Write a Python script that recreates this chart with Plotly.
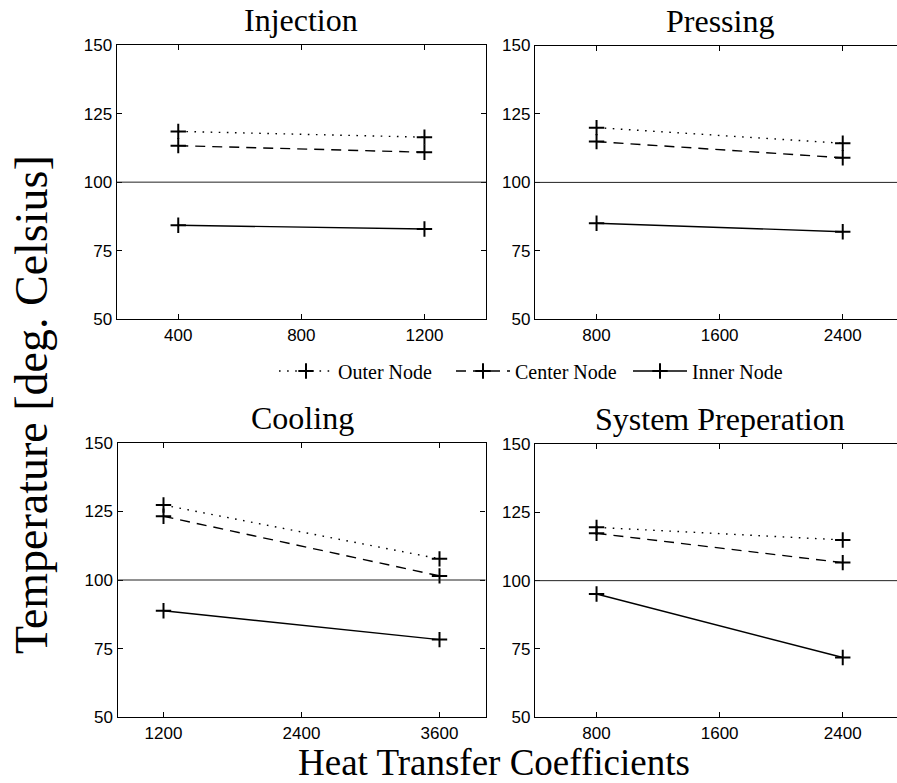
import plotly.graph_objects as go

# ---- data ----
panel_titles = ["Injection", "Pressing", "Cooling", "System Preperation"]
series_names = ["Outer Node", "Center Node", "Inner Node"]

injection_x = [400, 1200]
injection_outer = [118.5, 116.4]
injection_center = [113.3, 110.9]
injection_inner = [84.3, 82.9]

pressing_x = [800, 2400]
pressing_outer = [120.0, 114.3]
pressing_center = [114.9, 109.0]
pressing_inner = [85.1, 82.0]

cooling_x = [1200, 3600]
cooling_outer = [127.3, 107.7]
cooling_center = [123.2, 101.5]
cooling_inner = [88.8, 78.3]

sysprep_x = [800, 2400]
sysprep_outer = [119.5, 114.9]
sysprep_center = [117.3, 106.6]
sysprep_inner = [95.1, 71.9]

injection_ticks = [400, 800, 1200]
pressing_ticks = [800, 1600, 2400]
cooling_ticks = [1200, 2400, 3600]
sysprep_ticks = [800, 1600, 2400]
y_ticks = [50, 75, 100, 125, 150]
reference_level = 100

x_label = "Heat Transfer Coefficients"
y_label = "Temperature [deg. Celsius]"

# ---- figure ----
W, H = 897, 783
SERIF = "Liberation Serif, Times New Roman, serif"
SANS = "Liberation Sans, Arial, sans-serif"

panels = [
    (injection_x, [injection_outer, injection_center, injection_inner], injection_ticks, [200, 1400]),
    (pressing_x, [pressing_outer, pressing_center, pressing_inner], pressing_ticks, [400, 2752.6]),
    (cooling_x, [cooling_outer, cooling_center, cooling_inner], cooling_ticks, [800, 4000]),
    (sysprep_x, [sysprep_outer, sysprep_center, sysprep_inner], sysprep_ticks, [400, 2752.6]),
]
dashes = ["1.6px,6.5px", "10px,7px", "solid"]

# pixel boxes (left, right, top, bottom)
boxes = [
    (116.7, 486.0, 45.0, 319.3),
    (535.0, 897.0, 45.5, 319.3),
    (117.5, 485.5, 442.7, 717.3),
    (535.0, 897.0, 444.0, 717.3),
]

fig = go.Figure()
for i, (xs, ys_list, ticks, rng) in enumerate(panels):
    ax = "" if i == 0 else str(i + 1)
    for j, ys in enumerate(ys_list):
        fig.add_trace(go.Scatter(
            x=xs, y=ys, mode="lines+markers", name=series_names[j],
            legendgroup=series_names[j], showlegend=(i == 0),
            line=dict(color="black", width=1.4, dash=dashes[j]),
            marker=dict(symbol="cross-thin", size=11, color="black",
                        line=dict(color="black", width=2)),
            xaxis="x" + ax, yaxis="y" + ax,
        ))
    l, r, t, b = boxes[i]
    right_cut = (i % 2 == 1)
    fig.layout["xaxis" + ax] = dict(
        domain=[l / W, r / W], range=rng, anchor="y" + ax, automargin=False,
        tickvals=ticks, ticktext=[str(v) for v in ticks],
        ticks="inside", ticklen=5, tickcolor="black", tickwidth=1,
        showline=True, linecolor="black", linewidth=1.3, mirror="ticks",
        showgrid=False, zeroline=False,
        tickfont=dict(family=SANS, size=17, color="black"),
    )
    fig.layout["yaxis" + ax] = dict(
        domain=[1 - b / H, 1 - t / H], range=[50, 150], anchor="x" + ax, automargin=False,
        tickvals=y_ticks, ticktext=[str(v) for v in y_ticks],
        ticks="inside", ticklen=5, tickcolor="black", tickwidth=1,
        showline=True, linecolor="black", linewidth=1.3,
        mirror=False if right_cut else "ticks",
        showgrid=False, zeroline=False,
        tickfont=dict(family=SANS, size=17, color="black"),
    )
    fig.add_shape(type="line", xref=("x" + ax) + " domain", yref="y" + ax,
                  x0=0, x1=1, y0=reference_level, y1=reference_level,
                  line=dict(color="#222", width=1))
    fig.add_annotation(text=panel_titles[i], xref="paper", yref="paper",
                       x=((l + (l + 369.3)) / 2) / W, y=1 - (t - 25) / H,
                       showarrow=False, xanchor="center", yanchor="middle",
                       font=dict(family=SERIF, size=32, color="black"))

fig.add_annotation(text=x_label, xref="paper", yref="paper",
                   x=494 / W, y=1 - 762 / H, showarrow=False,
                   xanchor="center", yanchor="middle",
                   font=dict(family=SERIF, size=37, color="black"))
fig.add_annotation(text=y_label, xref="paper", yref="paper",
                   x=31 / W, y=1 - 405 / H, showarrow=False, textangle=-90,
                   xanchor="center", yanchor="middle",
                   font=dict(family=SERIF, size=46, color="black"))

fig.update_layout(
    template="none",
    width=W, height=H, margin=dict(l=0, r=0, t=0, b=0, pad=0, autoexpand=False),
    paper_bgcolor="white", plot_bgcolor="white",
    showlegend=True,
    legend=dict(orientation="h", x=274 / W, y=1 - 371 / H,
                xanchor="left", yanchor="middle",
                itemwidth=54, entrywidth=108,
                font=dict(family=SERIF, size=20, color="black"),
                bgcolor="rgba(0,0,0,0)"),
)

post = (
    "document.documentElement.style.margin='0';"
    "document.documentElement.style.overflow='hidden';"
    "document.body.style.margin='0';"
    "document.body.style.overflow='hidden';"
    "var gd=document.getElementById('{plot_id}');"
    "gd.style.position='absolute';gd.style.left='0px';gd.style.top='0px';"
)
fig.write_html("out.html", post_script=post, config={"displayModeBar": False})
